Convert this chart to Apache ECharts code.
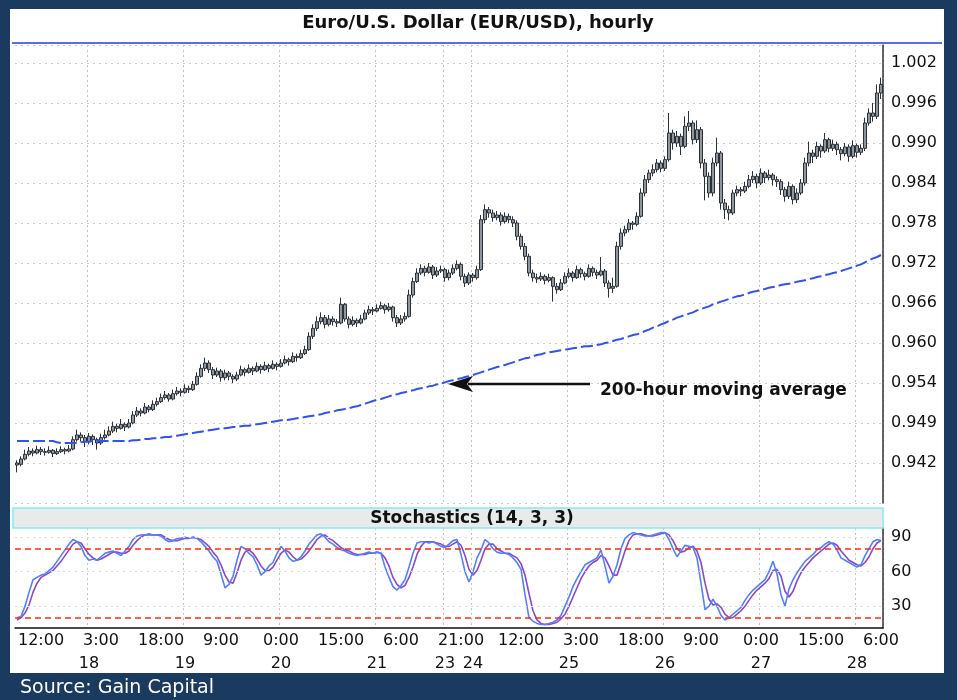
<!DOCTYPE html>
<html>
<head>
<meta charset="utf-8">
<script src="https://cdn.jsdelivr.net/npm/echarts@6/dist/echarts.min.js"></script>
<style>
html,body{margin:0;padding:0;background:#1b3a5f;}
#chart{width:957px;height:700px;}
</style>
</head>
<body>
<div id="chart"></div>
<script>
// ---- Data (hourly EUR/USD, one entry per trading hour) ----
const opens = [
.9420,.9418,.9426,.9433,.9438,.9435,.9440,.9437,.9436,.9439,
.9434,.9437,.9440,.9438,.9441,.9455,.9462,.9458,.9452,.9460,
.9455,.9450,.9458,.9462,.9468,.9475,.9472,.9478,.9474,.9480,
.9492,.9498,.9495,.9504,.9500,.9508,.9512,.9518,.9522,.9516,
.9524,.9528,.9526,.9532,.9530,.9538,.9550,.9562,.9570,.9560,
.9552,.9558,.9548,.9555,.9550,.9546,.9552,.9560,.9556,.9562,
.9558,.9565,.9560,.9566,.9562,.9568,.9565,.9570,.9575,.9572,
.9580,.9578,.9584,.9590,.9610,.9622,.9632,.9638,.9628,.9636,
.9632,.9630,.9658,.9636,.9628,.9634,.9630,.9636,.9645,.9650,
.9648,.9652,.9656,.9650,.9654,.9638,.9630,.9636,.9640,.9672,
.9692,.9705,.9712,.9706,.9714,.9702,.9708,.9710,.9698,.9705,
.9712,.9718,.9700,.9690,.9702,.9698,.9710,.9785,.9800,.9795,
.9788,.9792,.9782,.9790,.9785,.9780,.9760,.9745,.9730,.9705,
.9698,.9696,.9700,.9694,.9698,.9685,.9680,.9690,.9700,.9705,
.9698,.9710,.9704,.9700,.9712,.9706,.9702,.9708,.9690,.9682,
.9685,.9745,.9765,.9770,.9780,.9778,.9790,.9825,.9845,.9855,
.9860,.9870,.9862,.9875,.9915,.9900,.9910,.9895,.9925,.9930,
.9905,.9920,.9870,.9850,.9825,.9870,.9885,.9810,.9800,.9795,
.9825,.9830,.9828,.9835,.9845,.9850,.9840,.9855,.9848,.9852,
.9845,.9842,.9830,.9820,.9835,.9815,.9825,.9840,.9870,.9885,
.9880,.9895,.9888,.9905,.9892,.9898,.9890,.9884,.9894,.9880,
.9896,.9886,.9892,.9930,.9945,.9940,.9975];
const closes = [
.9417,.9426,.9433,.9438,.9435,.9440,.9437,.9436,.9439,.9434,
.9437,.9440,.9438,.9441,.9455,.9462,.9458,.9452,.9460,.9455,
.9450,.9458,.9462,.9468,.9475,.9472,.9478,.9474,.9480,.9492,
.9498,.9495,.9504,.9500,.9508,.9512,.9518,.9522,.9516,.9524,
.9528,.9526,.9532,.9530,.9538,.9550,.9562,.9570,.9560,.9552,
.9558,.9548,.9555,.9550,.9546,.9552,.9560,.9556,.9562,.9558,
.9565,.9560,.9566,.9562,.9568,.9565,.9570,.9575,.9572,.9580,
.9578,.9584,.9590,.9610,.9622,.9632,.9638,.9628,.9636,.9632,
.9630,.9658,.9636,.9628,.9634,.9630,.9636,.9645,.9650,.9648,
.9652,.9656,.9650,.9654,.9638,.9630,.9636,.9640,.9672,.9692,
.9705,.9712,.9706,.9714,.9702,.9708,.9710,.9698,.9705,.9712,
.9718,.9700,.9690,.9702,.9698,.9710,.9785,.9800,.9795,.9788,
.9792,.9782,.9790,.9785,.9780,.9760,.9745,.9730,.9705,.9698,
.9696,.9700,.9694,.9698,.9685,.9680,.9690,.9700,.9705,.9698,
.9710,.9704,.9700,.9712,.9706,.9702,.9708,.9690,.9682,.9685,
.9745,.9765,.9770,.9780,.9778,.9790,.9825,.9845,.9855,.9860,
.9870,.9862,.9875,.9915,.9900,.9910,.9895,.9925,.9930,.9905,
.9920,.9870,.9850,.9825,.9870,.9885,.9810,.9800,.9795,.9825,
.9830,.9828,.9835,.9845,.9850,.9840,.9855,.9848,.9852,.9845,
.9842,.9830,.9820,.9835,.9815,.9825,.9840,.9870,.9885,.9880,
.9895,.9888,.9905,.9892,.9898,.9890,.9884,.9894,.9880,.9896,
.9886,.9892,.9930,.9945,.9940,.9975,.9988];
const lows = [
.9406,.9415,.9424,.9430,.9430,.9433,.9432,.9431,.9434,.9429,
.9432,.9435,.9433,.9436,.9439,.9452,.9452,.9444,.9448,.9447,
.9440,.9447,.9455,.9460,.9465,.9466,.9470,.9468,.9472,.9478,
.9489,.9490,.9493,.9496,.9498,.9505,.9510,.9515,.9512,.9514,
.9521,.9520,.9524,.9525,.9528,.9536,.9548,.9558,.9555,.9546,
.9549,.9542,.9544,.9544,.9540,.9543,.9550,.9550,.9554,.9552,
.9556,.9554,.9558,.9556,.9560,.9559,.9563,.9568,.9566,.9570,
.9572,.9576,.9582,.9588,.9606,.9618,.9628,.9622,.9625,.9626,
.9624,.9628,.9632,.9622,.9625,.9624,.9628,.9634,.9642,.9642,
.9646,.9650,.9644,.9647,.9632,.9624,.9627,.9632,.9638,.9668,
.9690,.9702,.9700,.9704,.9696,.9699,.9705,.9692,.9694,.9702,
.9709,.9694,.9684,.9687,.9692,.9695,.9708,.9780,.9788,.9782,
.9784,.9776,.9779,.9780,.9774,.9754,.9740,.9724,.9700,.9692,
.9690,.9693,.9688,.9691,.9662,.9674,.9678,.9688,.9697,.9692,
.9696,.9698,.9694,.9698,.9700,.9696,.9700,.9684,.9668,.9675,
.9683,.9740,.9760,.9766,.9770,.9775,.9788,.9820,.9840,.9850,
.9856,.9856,.9858,.9872,.9890,.9894,.9882,.9892,.9918,.9898,
.9900,.9862,.9814,.9818,.9820,.9865,.9800,.9786,.9784,.9792,
.9820,.9820,.9825,.9832,.9840,.9832,.9837,.9840,.9844,.9836,
.9834,.9822,.9812,.9816,.9808,.9810,.9822,.9836,.9865,.9870,
.9876,.9878,.9885,.9886,.9888,.9882,.9874,.9880,.9872,.9877,
.9878,.9882,.9888,.9926,.9932,.9936,.9966];
const highs = [
.9424,.9430,.9440,.9444,.9442,.9446,.9444,.9442,.9445,.9441,
.9442,.9445,.9443,.9447,.9460,.9470,.9466,.9462,.9465,.9463,
.9458,.9464,.9470,.9475,.9482,.9479,.9486,.9481,.9486,.9498,
.9504,.9502,.9510,.9507,.9514,.9518,.9524,.9528,.9525,.9530,
.9534,.9532,.9538,.9536,.9543,.9556,.9568,.9578,.9574,.9564,
.9563,.9561,.9560,.9558,.9553,.9557,.9566,.9563,.9568,.9565,
.9571,.9568,.9572,.9569,.9574,.9571,.9576,.9581,.9578,.9586,
.9584,.9590,.9596,.9616,.9628,.9640,.9646,.9642,.9642,.9640,
.9636,.9668,.9660,.9640,.9640,.9637,.9642,.9650,.9656,.9654,
.9658,.9662,.9659,.9660,.9656,.9642,.9642,.9646,.9680,.9698,
.9712,.9718,.9716,.9720,.9717,.9714,.9716,.9713,.9710,.9718,
.9724,.9721,.9704,.9706,.9705,.9716,.9792,.9808,.9804,.9800,
.9798,.9796,.9796,.9794,.9790,.9784,.9764,.9750,.9734,.9710,
.9704,.9706,.9703,.9704,.9700,.9690,.9696,.9706,.9712,.9708,
.9716,.9713,.9707,.9718,.9715,.9710,.9729,.9711,.9694,.9698,
.9752,.9772,.9776,.9786,.9783,.9796,.9832,.9852,.9860,.9868,
.9876,.9874,.9880,.9945,.9920,.9918,.9914,.9940,.9948,.9934,
.9934,.9924,.9876,.9856,.9878,.9908,.9888,.9816,.9806,.9830,
.9836,.9834,.9842,.9852,.9858,.9854,.9862,.9858,.9860,.9855,
.9850,.9846,.9834,.9842,.9838,.9832,.9846,.9878,.9902,.9890,
.9902,.9898,.9915,.9908,.9905,.9902,.9894,.9900,.9898,.9904,
.9899,.9898,.9938,.9952,.9960,.9988,.9998];
const ma200 = [
.9453,.9453,.9453,.9453,.9453,.9453,.9453,.9453,.9453,.9453,
.9451,.9450,.9450,.9450,.9450,.9450,.9451,
.9452,.9452,.9453,.9453,.9453,.9453,.9453,.9453,.9453,.9453,.9453,.9453,
.9454,.9454,.9455,.9456,.9456,.9457,.9457,.9458,.9459,.9459,.9460,
.9461,.9462,.9463,.9464,.9465,.9466,.9467,.9468,.9469,.9470,
.9471,.9472,.9472,.9473,.9474,.9474,.9475,.9476,.9476,
.9477,.9478,.9479,.9480,.9481,.9482,
.9483,.9484,.9484,.9485,
.9486,.9487,.9488,.9489,.9490,.9491,
.9492,.9493,.9495,.9496,.9497,.9499,.9500,.9501,.9502,.9504,
.9505,.9507,.9509,.9511,.9513,.9515,.9516,.9518,.9520,.9522,.9523,
.9525,.9526,.9528,.9529,.9531,.9532,.9533,.9535,.9536,.9538,
.9539,.9541,.9543,.9544,.9546,.9547,.9549,
.9550,.9552,.9554,.9556,.9558,.9560,.9562,.9564,.9565,.9567,.9569,.9571,.9573,
.9575,.9577,.9578,.9580,.9582,.9583,.9585,
.9586,.9587,.9588,.9589,.9590,.9591,.9592,.9593,.9594,.9595,.9595,.9596,.9597,
.9598,.9600,.9601,.9603,.9605,.9606,.9608,.9610,.9612,.9613,
.9615,.9618,.9620,.9623,.9625,.9628,.9630,.9633,.9635,.9638,
.9640,.9642,.9644,.9646,.9649,.9651,.9653,.9655,.9658,.9660,
.9662,.9664,.9666,.9668,.9670,.9671,.9673,.9675,.9677,.9678,
.9680,.9681,.9683,.9684,.9685,.9687,.9688,.9689,.9690,.9692,
.9693,.9694,.9696,.9697,.9699,.9700,.9702,.9703,.9705,.9706,
.9708,.9710,.9712,.9714,.9716,.9718,.9721,.9724,.9727,.9729,.9732];
const stochK = [
20,21,30,42,53,55,57,58,61,64, 69,74,79,84,88,86,82,74,70,71,
70,73,76,77,78,76,74,78,82,88, 91,92,92,93,92,92,91,88,86,87,
89,89,90,89,90,89,86,82,78,73, 69,58,46,49,56,70,82,80,76,73,
66,57,60,65,68,76,82,78,72,69, 70,73,78,84,88,92,93,90,86,84,
81,79,78,76,75,74,75,76,77,76, 77,76,64,55,47,44,48,53,64,76,
85,86,86,85,86,84,82,81,84,87, 88,75,60,51,60,72,79,88,85,80,
77,76,76,75,72,68,62,40,20,17, 15,14,14,15,16,18,22,30,38,47,
54,60,66,68,70,72,79,65,50,56, 66,80,89,92,94,93,92,91,91,92,
93,94,94,88,80,73,78,83,82,81, 72,50,27,30,36,30,22,18,20,23,
26,29,35,40,44,47,50,53,60,69, 58,40,30,45,53,59,64,69,72,75,
79,81,84,86,84,79,72,70,68,66, 64,66,74,80,86,88,87];
const stochD = [
18,20,24,31,42,50,55,57,59,61, 65,69,74,79,84,86,85,80,75,72,
70,71,73,75,77,77,76,76,78,83, 87,90,92,92,92,92,92,90,88,87,
87,88,89,89,90,89,88,85,82,77, 73,66,57,51,50,59,70,77,79,76,
71,65,61,61,64,70,76,79,77,73, 70,71,74,78,83,88,91,92,89,87,
84,81,79,78,76,75,75,75,76,76, 77,76,72,65,55,49,46,48,55,64,
75,82,86,86,86,85,84,82,82,84, 86,83,74,62,57,61,70,80,84,84,
80,78,76,76,74,72,67,57,41,26, 18,15,14,14,15,16,19,23,30,38,
46,54,60,65,68,70,74,72,65,57, 57,67,78,87,92,93,93,92,91,91,
92,93,94,92,87,80,77,78,81,82, 78,68,50,36,31,32,29,23,20,20,
23,26,30,35,40,44,47,50,54,61, 62,56,43,38,43,52,59,64,68,72,
75,78,81,84,85,83,78,74,70,68, 66,65,68,73,80,85,87];

// Axis labels
const priceTickValues = [0.942,0.948,0.954,0.960,0.966,0.972,0.978,0.984,0.990,0.996,1.002];
const priceTickLabels = ['0.942','0.949','0.954','0.960','0.966','0.972','0.978','0.984','0.990','0.996','1.002'];
const stochTickValues = [30,60,90];
const stochLevels = [20,80];
const timeIdx  = [6,21,36,51,66,81,96,111,126,141,156,171,186,201,216];
const timeText = ['12:00','3:00','18:00','9:00','0:00','15:00','6:00','21:00','12:00','3:00','18:00','9:00','0:00','15:00','6:00'];
const dateIdx  = [18,42,66,90,107,114,138,162,186,210];
const dateText = ['18','19','20','21','23','24','25','26','27','28'];

// ---- Chart ----
const hours = closes.map((_, i) => String(i));
const ohlc = closes.map((c, i) => [opens[i], c, lows[i], highs[i]]);
const FONT = 'DejaVu Sans';
const daySplit = {
  show: true,
  interval: (i) => dateIdx.indexOf(i) >= 0,
  lineStyle: { color: '#bfc4c4', type: [2, 3], width: 1 }
};

const chart = echarts.init(document.getElementById('chart'), null, { renderer: 'canvas' });
chart.setOption({
  animation: false,
  backgroundColor: '#1b3a5f',
  textStyle: { fontFamily: FONT },
  graphic: [
    { type: 'rect', z: -10, shape: { x: 10, y: 9, width: 934, height: 664 }, style: { fill: '#ffffff' } },
    { type: 'line', z: 5, shape: { x1: 12, y1: 43, x2: 942, y2: 43 }, style: { stroke: '#5a6ee6', lineWidth: 2 } },
    { type: 'text', z: 10, style: { text: 'Euro/U.S. Dollar (EUR/USD), hourly', x: 478, y: 23, align: 'center', verticalAlign: 'middle', font: 'bold 18px "DejaVu Sans"', fill: '#111' } },
    { type: 'rect', z: 5, shape: { x: 13, y: 508, width: 870, height: 20 }, style: { fill: '#e9ebeb', stroke: '#86ecec', lineWidth: 1.5 } },
    { type: 'text', z: 10, style: { text: 'Stochastics (14, 3, 3)', x: 472, y: 519, align: 'center', verticalAlign: 'middle', font: 'bold 17px "DejaVu Sans"', fill: '#111' } },
    { type: 'line', z: 10, shape: { x1: 468, y1: 384, x2: 590, y2: 384 }, style: { stroke: '#111', lineWidth: 2.5 } },
    { type: 'polygon', z: 10, shape: { points: [[448, 384], [473, 376], [467, 384], [473, 392]] }, style: { fill: '#111' } },
    { type: 'text', z: 10, style: { text: '200-hour moving average', x: 600, y: 391, align: 'left', verticalAlign: 'middle', font: 'bold 17px "DejaVu Sans"', fill: '#111' } },
    { type: 'text', z: 10, style: { text: 'Source: Gain Capital', x: 20, y: 688, align: 'left', verticalAlign: 'middle', font: '19px "DejaVu Sans"', fill: '#ffffff' } }
  ],
  grid: [
    { left: 15, right: 74, top: 45, height: 458 },
    { left: 15, right: 74, top: 528, height: 100 }
  ],
  xAxis: [
    { gridIndex: 0, type: 'category', data: hours, boundaryGap: true,
      axisLine: { show: false }, axisTick: { show: false }, axisLabel: { show: false },
      splitLine: daySplit },
    { gridIndex: 1, type: 'category', data: hours, boundaryGap: true,
      axisLine: { show: true, lineStyle: { color: '#111', width: 1.5 } }, axisTick: { show: false },
      axisLabel: { interval: (i) => timeIdx.indexOf(i) >= 0,
        formatter: (v, i) => { const k = timeIdx.indexOf(i); return k >= 0 ? timeText[k] : ''; },
        color: '#111', fontSize: 16, fontFamily: FONT, margin: 5 },
      splitLine: daySplit },
    { gridIndex: 1, type: 'category', data: hours, boundaryGap: true, position: 'bottom', offset: 23,
      axisLine: { show: false }, axisTick: { show: false },
      axisLabel: { interval: (i) => dateIdx.indexOf(i) >= 0,
        formatter: (v, i) => { const k = dateIdx.indexOf(i); return k >= 0 ? dateText[k] : ''; },
        color: '#111', fontSize: 16, fontFamily: FONT, margin: 5 },
      splitLine: { show: false } }
  ],
  yAxis: [
    { gridIndex: 0, type: 'value', position: 'right', min: 0.936, max: 1.0047, interval: 0.006, scale: true,
      axisLine: { show: true, lineStyle: { color: '#333', width: 1.5 } }, axisTick: { show: false },
      axisLabel: { color: '#111', fontSize: 16, fontFamily: FONT, margin: 8,
        formatter: (v) => { const k = priceTickValues.findIndex(t => Math.abs(t - v) < 1e-6); return k >= 0 ? priceTickLabels[k] : ''; } },
      splitLine: { show: true, lineStyle: { color: '#c8cccc', type: [2, 4], width: 1 } } },
    { gridIndex: 1, type: 'value', position: 'right', min: 11, max: 98,
      axisLine: { show: true, lineStyle: { color: '#333', width: 1.5 } },
      axisTick: { show: false, customValues: stochTickValues },
      axisLabel: { customValues: stochTickValues, color: '#111', fontSize: 16, fontFamily: FONT, margin: 8 },
      splitLine: { show: false } }
  ],
  series: [
    { type: 'candlestick', xAxisIndex: 0, yAxisIndex: 0, data: ohlc, barWidth: 3,
      itemStyle: { color: '#8e989c', color0: '#8e989c', borderColor: '#2c3038', borderColor0: '#2c3038', borderWidth: 1 } },
    { type: 'line', xAxisIndex: 0, yAxisIndex: 0, data: ma200, symbol: 'none',
      lineStyle: { color: '#2f52f0', width: 2, type: [12, 4] } },
    { type: 'line', xAxisIndex: 1, yAxisIndex: 1, data: stochD, symbol: 'none', z: 3,
      lineStyle: { color: '#8a48c8', width: 1.6 },
      markLine: { silent: true, symbol: 'none', label: { show: false },
        lineStyle: { color: '#d8dcdc', type: [2, 4], width: 1 },
        data: stochTickValues.map(v => ({ yAxis: v })) } },
    { type: 'line', xAxisIndex: 1, yAxisIndex: 1, data: stochK, symbol: 'none', z: 4,
      lineStyle: { color: '#4f80ff', width: 1.6 },
      markLine: { silent: true, symbol: 'none', label: { show: false },
        lineStyle: { color: '#ff2a10', type: [6, 4], width: 1.6 },
        data: stochLevels.map(v => ({ yAxis: v })) } }
  ]
});
</script>
</body>
</html>
